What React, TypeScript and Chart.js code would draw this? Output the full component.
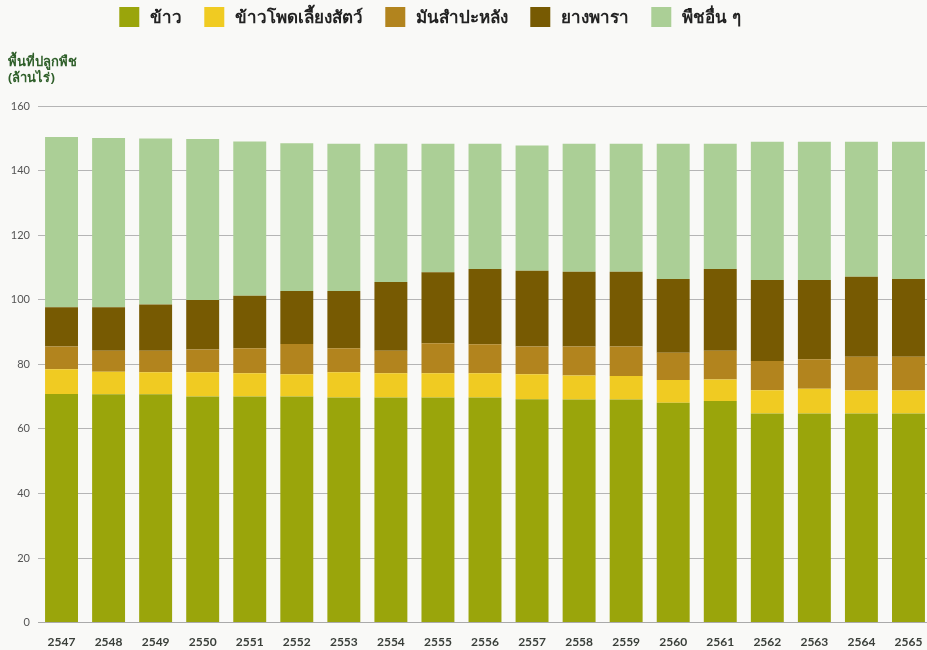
import React, { useEffect, useRef } from "react";
import { Chart, registerables } from "chart.js";

Chart.register(...registerables);

const years = ["2547","2548","2549","2550","2551","2552","2553","2554","2555","2556","2557","2558","2559","2560","2561","2562","2563","2564","2565"];
const rice = [70.8,70.7,70.7,70.0,70.0,70.0,69.7,69.7,69.7,69.7,69.2,69.1,69.1,68.1,68.6,64.8,64.8,64.8,64.8];
const maize = [7.7,7.0,6.8,7.5,7.2,6.9,7.8,7.5,7.5,7.5,7.7,7.4,7.3,7.0,6.7,7.2,7.6,7.1,7.1];
const cassava = [7.0,6.5,6.7,7.1,7.8,9.4,7.5,7.0,9.3,9.0,8.6,9.0,9.1,8.5,8.9,9.0,9.2,10.4,10.4];
const rubber = [12.2,13.5,14.3,15.3,16.2,16.4,17.7,21.3,22.0,23.3,23.5,23.2,23.2,22.8,25.3,25.1,24.5,24.8,24.1];
const others = [52.7,52.4,51.4,49.9,47.8,45.8,45.6,42.8,39.8,38.8,38.8,39.6,39.6,41.9,38.8,42.8,42.8,41.8,42.5];

const seriesNames = ["ข้าว", "ข้าวโพดเลี้ยงสัตว์", "มันสำปะหลัง", "ยางพารา", "พืชอื่น ๆ"];
const seriesColors = ["#9aa50b", "#f0cb22", "#b2841e", "#775a02", "#abcf96"];
const yTitle = ["พื้นที่ปลูกพืช", "(ล้านไร่)"];

export default function App() {
  const ref = useRef<HTMLCanvasElement | null>(null);
  useEffect(() => {
    if (!ref.current) return;
    const values = [rice, maize, cassava, rubber, others];
    const bgPlugin = {
      id: "bg",
      beforeDraw(chart: any) {
        const { ctx, width, height } = chart;
        ctx.save();
        ctx.fillStyle = "#f9f9f7";
        ctx.fillRect(0, 0, width, height);
        ctx.restore();
      },
      afterDraw(chart: any) {
        const { ctx } = chart;
        ctx.save();
        // axis title
        ctx.fillStyle = "#2f5f2a";
        ctx.font = "bold 13px 'Noto Sans', sans-serif";
        ctx.textBaseline = "middle";
        ctx.textAlign = "left";
        ctx.fillText(yTitle[0], 8, 62);
        ctx.fillText(yTitle[1], 8, 78);
        // legend
        ctx.font = "bold 17px 'Noto Sans', sans-serif";
        const box = 20, gapText = 11, gapItem = 22;
        const widths = chart.data.datasets.map((d: any) => ctx.measureText(d.label).width);
        const total = widths.reduce((a: number, w: number) => a + box + gapText + w, 0) + gapItem * (widths.length - 1);
        let x = 430 - total / 2;
        const yc = 17;
        chart.data.datasets.forEach((d: any, i: number) => {
          ctx.fillStyle = d.backgroundColor;
          ctx.fillRect(x, yc - box / 2, box, box);
          ctx.fillStyle = "#222";
          ctx.fillText(d.label, x + box + gapText, yc + 1);
          x += box + gapText + widths[i] + gapItem;
        });
        ctx.restore();
      },
    };
    const chart = new Chart(ref.current, {
      type: "bar",
      data: {
        labels: years,
        datasets: seriesNames.map((n, i) => ({
          label: n,
          data: values[i],
          backgroundColor: seriesColors[i],
          borderWidth: 0,
          barPercentage: 0.7,
          categoryPercentage: 1,
        })),
      },
      options: {
        responsive: false,
        animation: false,
        layout: { padding: { top: 106, left: 0, right: 0, bottom: 0 } },
        plugins: {
          legend: { display: false },
          tooltip: { enabled: false },
          title: { display: false },
        },
        scales: {
          x: {
            stacked: true,
            grid: { display: false },
            border: { display: true, color: "#aaaaaa", width: 1 },
            ticks: {
              color: "#3a3f3a",
              padding: 4,
              maxRotation: 0,
              font: { size: 12, weight: "bold", family: "Lato, sans-serif" },
            },
          },
          y: {
            stacked: true,
            min: 0,
            max: 160,
            afterFit: (s: any) => { s.width = 38; },
            grid: { color: "#b5b5b5", lineWidth: 1, drawTicks: false },
            border: { display: false },
            ticks: {
              stepSize: 20,
              color: "#555",
              padding: 8,
              font: { size: 11, family: "Lato, sans-serif" },
            },
          },
        },
      },
      plugins: [bgPlugin],
    } as any);
    return () => chart.destroy();
  }, []);
  return (
    <div style={{ position: "fixed", left: 0, top: 0, width: 927, height: 650, overflow: "hidden", background: "#f9f9f7" }}>
      <canvas ref={ref} width={932} height={653} style={{ display: "block" }} />
    </div>
  );
}
